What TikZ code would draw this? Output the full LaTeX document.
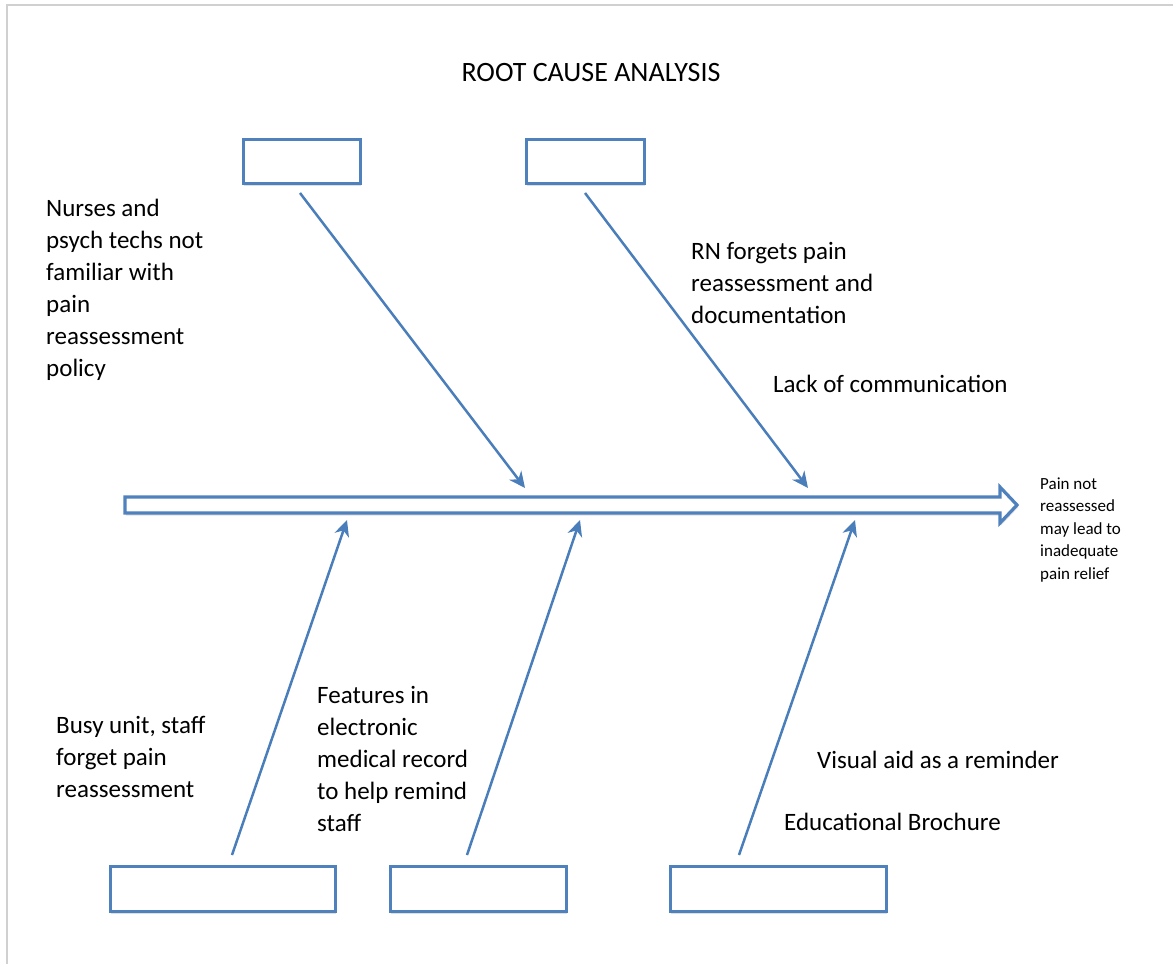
\documentclass[tikz,border=0pt]{standalone}
\usepackage{fontspec}
\setmainfont{Carlito}
\usetikzlibrary{arrows.meta,shadows}
\definecolor{blu}{HTML}{4F81BD}
\definecolor{arr}{HTML}{4A7EBB}
\definecolor{frm}{HTML}{D0D0D0}
\begin{document}
\begin{tikzpicture}[x=1pt,y=-1pt,
  cbox/.style={draw=blu,line width=3pt,fill=white,minimum width=#1,minimum height=44pt,inner sep=0pt,
    drop shadow={opacity=0.25,shadow xshift=1pt,shadow yshift=-2.5pt}},
  bone/.style={draw=arr,line width=2.5pt,-{Stealth[length=16pt,width=15pt,inset=5pt]}},
  lbl/.style={anchor=base west,inner sep=0pt,align=left,font=\fontsize{25}{32}\selectfont},
  small/.style={anchor=base west,inner sep=0pt,align=left,font=\fontsize{17}{22.5}\selectfont}]
\useasboundingbox (0,0) rectangle (1173,964);
% frame
\draw[frm,line width=2pt] (7,964) -- (7,5) -- (1173,5);
% title
\node[anchor=base,inner sep=0pt,font=\fontsize{28}{34}\selectfont] (title) at (591,81) {ROOT CAUSE ANALYSIS};
% spine (hollow arrow)
\draw[blu,line width=3.2pt,fill=white,line join=miter,
  drop shadow={opacity=0.25,shadow xshift=1pt,shadow yshift=-2.5pt}]
  (125,497) -- (1000,497) -- (1000,487) -- (1017,505) -- (1000,523) -- (1000,513) -- (125,513) -- cycle;
% boxes
\node[cbox=117pt] (b1) at (301.5,161) {};
\node[cbox=118pt] (b2) at (585,161) {};
\node[cbox=225pt,minimum height=45pt] (b3) at (222.5,889) {};
\node[cbox=176pt,minimum height=45pt] (b4) at (478,889) {};
\node[cbox=216pt,minimum height=45pt] (b5) at (778,889) {};
% bone end points
\coordinate (s1) at (300,193);  \coordinate (e1) at (525,488);
\coordinate (s2) at (585,193);  \coordinate (e2) at (808,488);
\coordinate (s3) at (232,855);  \coordinate (e3) at (347,520);
\coordinate (s4) at (467,855);  \coordinate (e4) at (580,520);
\coordinate (s5) at (739,855);  \coordinate (e5) at (855,520);
\draw[bone] (s1) -- (e1);
\draw[bone] (s2) -- (e2);
\draw[bone] (s3) -- (e3);
\draw[bone] (s4) -- (e4);
\draw[bone] (s5) -- (e5);
% labels (base anchor = baseline of last line)
\node[lbl] (t1) at (46,376) {Nurses and\\psych techs not\\familiar with\\pain\\reassessment\\policy};
\node[lbl] (t2) at (691,323) {RN forgets pain\\reassessment and\\documentation};
\node[lbl] (t3) at (773,392) {Lack of communication};
\node[small] (eff) at (1040,579) {Pain not\\reassessed\\may lead to\\inadequate\\pain relief};
\node[lbl] (t4) at (56,797) {Busy unit, staff\\forget pain\\reassessment};
\node[lbl] (t5) at (317,831) {Features in\\electronic\\medical record\\to help remind\\staff};
\node[lbl] (t6) at (817,768) {Visual aid as a reminder};
\node[lbl] (t7) at (784,830) {Educational Brochure};
\end{tikzpicture}
\end{document}
